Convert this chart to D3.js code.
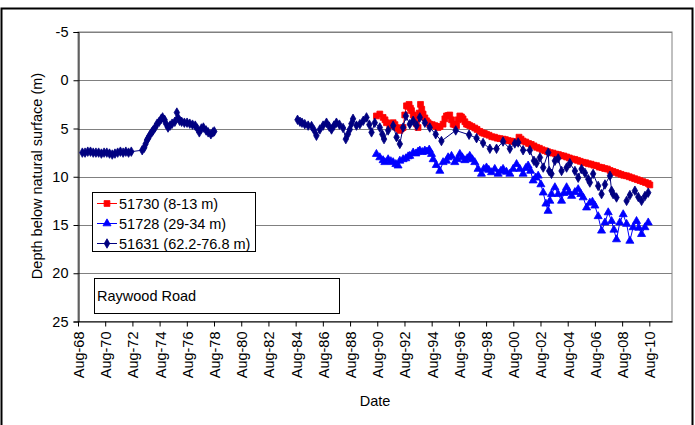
<!DOCTYPE html>
<html>
<head>
<meta charset="utf-8">
<script src="https://cdn.jsdelivr.net/npm/d3@7"></script>
<style>
  body { margin: 0; background: #fff; }
  svg { display: block; }
  text { font-family: Arial, "Liberation Sans", sans-serif; fill: #000; }
</style>
</head>
<body>
<svg id="chart" width="695" height="425"></svg>
<script>
// Depth tick values (m) and date tick years (August of every second year)
const depthTicks = [-5, 0, 5, 10, 15, 20, 25];
const tickYears = d3.range(1968, 2011, 2);

// Bore 51730 (8-13 m): [decimal year, depth below surface]
const bore51730 = [
  [1990.52,3.7],[1990.77,3.5],[1991.01,3.85],[1991.15,4.1],[1991.26,4.4],[1991.50,4.7],[1991.62,4.5],
  [1991.75,4.4],[1991.88,4.6],[1992.00,4.9],[1992.12,5.0],[1992.24,5.2],[1992.36,5.0],[1992.48,4.9],
  [1992.60,3.6],[1992.73,2.65],[1992.82,2.7],[1992.92,2.5],[1993.02,2.9],[1993.10,3.15],[1993.22,3.6],
  [1993.34,4.0],[1993.46,4.5],[1993.58,4.9],[1993.66,3.4],[1993.76,2.5],[1993.85,3.0],[1993.95,3.5],
  [1994.08,3.9],[1994.20,4.2],[1994.32,4.4],[1994.44,4.55],[1994.62,4.6],[1994.81,4.7],[1994.93,4.8],
  [1995.05,4.9],[1995.20,4.8],[1995.42,4.55],[1995.55,4.0],[1995.67,3.7],[1995.80,3.65],[1995.91,3.6],
  [1996.04,4.1],[1996.16,4.55],[1996.28,4.6],[1996.41,4.7],[1996.53,4.1],[1996.65,3.7],[1996.77,3.8],
  [1996.89,4.0],[1997.02,4.3],[1997.14,4.55],[1997.26,4.6],[1997.38,4.7],[1997.55,4.8],[1997.75,4.95],
  [1997.92,5.1],[1998.12,5.3],[1998.30,5.45],[1998.45,5.5],[1998.61,5.6],[1998.80,5.7],[1999.00,5.85],
  [1999.20,5.9],[1999.40,6.0],[1999.60,6.05],[1999.83,6.1],[2000.00,6.15],[2000.20,6.25],[2000.40,6.3],
  [2000.60,6.35],[2000.82,6.45],[2001.00,5.9],[2001.15,6.1],[2001.30,6.3],[2001.50,6.4],[2001.70,6.55],
  [2001.90,6.65],[2002.10,6.8],[2002.30,6.95],[2002.50,7.05],[2002.70,7.2],[2002.90,7.3],[2003.10,7.4],
  [2003.30,7.5],[2003.50,7.55],[2003.70,7.65],[2003.90,7.7],[2004.10,7.8],[2004.30,7.85],[2004.50,7.95],
  [2004.70,8.05],[2004.90,8.15],[2005.10,8.2],[2005.30,8.3],[2005.50,8.4],[2005.70,8.5],[2005.90,8.55],
  [2006.10,8.65],[2006.30,8.7],[2006.50,8.8],[2006.70,8.85],[2006.90,9.0],[2007.10,9.05],[2007.30,9.15],
  [2007.50,9.2],[2007.70,9.35],[2007.90,9.45],[2008.10,9.55],[2008.30,9.65],[2008.50,9.75],[2008.70,9.85],
  [2008.90,9.9],[2009.10,10.0],[2009.30,10.1],[2009.50,10.2],[2009.70,10.3],[2009.90,10.4],[2010.10,10.5],
  [2010.30,10.6],[2010.50,10.7],[2010.62,10.85]
];

// Bore 51728 (29-34 m)
const bore51728 = [
  [1990.52,7.65],[1990.77,8.0],[1991.01,8.3],[1991.14,8.5],[1991.38,8.2],[1991.58,8.4],[1991.75,8.5],
  [1991.95,8.7],[1992.11,8.85],[1992.24,8.35],[1992.48,8.2],[1992.68,8.1],[1992.85,7.9],[1992.97,7.85],
  [1993.22,7.5],[1993.42,7.6],[1993.58,7.4],[1993.71,7.3],[1993.89,7.45],[1994.08,7.3],[1994.23,7.4],
  [1994.40,7.2],[1994.57,7.65],[1994.69,8.2],[1994.92,8.8],[1995.18,9.4],[1995.42,8.5],[1995.67,8.35],
  [1995.79,8.0],[1996.04,7.85],[1996.28,8.5],[1996.47,8.2],[1996.65,7.65],[1996.83,8.0],[1997.02,8.3],
  [1997.20,8.1],[1997.38,7.85],[1997.57,8.2],[1997.75,8.5],[1997.99,9.2],[1998.24,9.7],[1998.41,9.2],
  [1998.61,9.05],[1998.78,9.3],[1998.98,9.55],[1999.22,9.2],[1999.47,9.7],[1999.67,9.4],[1999.83,9.2],
  [2000.08,9.5],[2000.33,9.7],[2000.57,9.2],[2000.82,8.7],[2001.06,9.2],[2001.30,9.7],[2001.50,9.1],
  [2001.67,8.85],[2001.85,9.4],[2002.04,10.4],[2002.22,10.1],[2002.41,9.9],[2002.61,10.8],[2002.78,11.65],
  [2002.98,12.8],[2003.14,13.55],[2003.27,12.5],[2003.39,11.8],[2003.64,11.1],[2003.88,11.8],[2004.13,12.5],
  [2004.30,11.7],[2004.50,11.1],[2004.67,11.6],[2004.87,12.0],[2005.11,11.6],[2005.35,11.3],[2005.55,11.8],
  [2005.72,12.15],[2005.97,13.2],[2006.21,12.7],[2006.40,12.6],[2006.58,13.0],[2006.82,14.1],[2007.07,15.6],
  [2007.32,14.75],[2007.56,13.7],[2007.81,14.6],[2007.98,15.5],[2008.17,16.5],[2008.41,14.75],[2008.66,13.9],
  [2008.91,14.9],[2009.15,16.65],[2009.39,15.25],[2009.64,14.6],[2009.81,15.3],[2010.01,15.95],[2010.26,15.25],
  [2010.50,14.75]
];

// Bore 51631 (62.2-76.8 m); null marks a break in the record
const bore51631 = [
  [1968.90,7.5],[1969.10,7.5],[1969.30,7.4],[1969.50,7.4],[1969.70,7.5],[1969.90,7.5],[1970.10,7.5],
  [1970.30,7.6],[1970.50,7.5],[1970.70,7.5],[1970.90,7.6],[1971.10,7.7],[1971.30,7.6],[1971.50,7.5],
  [1971.70,7.4],[1971.90,7.5],[1972.10,7.4],[1972.30,7.5],[1972.50,7.4],[1973.30,7.25],[1973.45,7.0],
  [1973.55,6.6],[1973.65,6.2],[1973.75,6.0],[1973.85,5.7],[1974.00,5.4],[1974.10,5.2],[1974.25,4.9],
  [1974.40,4.5],[1974.55,4.3],[1974.70,4.0],[1974.80,3.85],[1974.95,4.1],[1975.05,4.5],[1975.20,4.9],
  [1975.35,4.7],[1975.50,4.5],[1975.70,4.3],[1975.85,3.35],[1975.95,3.9],[1976.05,4.2],[1976.20,4.3],
  [1976.40,4.4],[1976.60,4.4],[1976.80,4.5],[1977.00,4.6],[1977.20,4.7],[1977.35,5.0],[1977.50,5.4],
  [1977.65,5.0],[1977.80,4.9],[1978.00,5.2],[1978.15,5.4],[1978.35,5.6],[1978.50,5.4],[1978.60,5.3],
  null,
  [1984.72,4.1],[1984.90,4.3],[1985.05,4.4],[1985.25,4.55],[1985.50,4.7],[1985.75,4.75],[1985.95,5.2],
  [1986.11,5.75],[1986.36,5.1],[1986.60,4.7],[1986.85,4.4],[1987.05,4.8],[1987.22,5.1],[1987.40,4.7],
  [1987.58,4.4],[1987.80,4.6],[1988.07,4.95],[1988.27,6.1],[1988.42,5.6],[1988.56,5.1],[1988.68,4.5],
  [1988.80,4.0],[1989.05,4.7],[1989.30,4.55],[1989.55,4.2],[1989.79,3.85],[1990.00,4.6],[1990.16,5.4],
  [1990.40,4.4],[1990.77,4.9],[1990.95,5.6],[1991.08,6.1],[1991.38,5.2],[1991.75,4.7],[1992.00,5.9],
  [1992.24,6.6],[1992.48,4.9],[1992.68,3.7],[1992.97,4.55],[1993.22,4.2],[1993.47,4.7],[1993.71,3.85],
  [1994.08,4.4],[1994.44,4.9],[1994.88,5.6],[1995.30,6.3],[1996.35,5.2],[1997.33,5.65],[1997.88,6.0],
  [1998.36,6.5],[1998.86,7.1],[1999.35,7.1],[1999.83,6.35],[2000.33,7.1],[2000.69,6.55],[2000.94,6.45],
  [2001.30,7.25],[2001.80,7.25],[2002.10,8.35],[2002.29,8.6],[2002.54,8.0],[2002.78,9.05],[2003.15,7.5],
  [2003.22,9.4],[2003.39,9.7],[2003.64,8.35],[2003.88,8.1],[2004.13,9.4],[2004.50,9.05],[2004.74,8.6],
  [2005.11,9.4],[2005.35,10.1],[2005.60,9.2],[2005.85,9.6],[2006.09,10.25],[2006.21,10.6],[2006.45,9.7],
  [2006.82,10.95],[2007.07,11.8],[2007.32,10.8],[2007.69,9.9],[2007.81,11.45],[2007.92,11.8],[2008.17,12.15],
  null,
  [2008.91,12.5],[2009.15,11.9],[2009.52,11.45],[2009.77,12.1],[2010.01,12.5],[2010.26,12.0],[2010.50,11.65]
];

const seriesList = [
  { name: "51730 (8-13 m)",      data: bore51730, color: "#FF0000", symbol: d3.symbolSquare,   size: 34 },
  { name: "51728 (29-34 m)",     data: bore51728, color: "#0000FF", symbol: d3.symbolTriangle, size: 28 },
  { name: "51631 (62.2-76.8 m)", data: bore51631, color: "#000080", symbol: d3.symbolDiamond,  size: 26 }
];

function yearToDate(v) {
  const yr = Math.floor(v);
  const a = new Date(yr, 0, 1), b = new Date(yr + 1, 0, 1);
  return new Date(+a + (v - yr) * (b - a));
}

const svg = d3.select("#chart");
const plotLeft = 78, plotRight = 672, plotTop = 32, plotBottom = 321.5;

const x = d3.scaleTime()
  .domain([new Date(1968, 7, 1), new Date(2012, 3, 1)])
  .range([plotLeft, plotRight]);
const y = d3.scaleLinear().domain([-5, 25]).range([plotTop, plotBottom]);

// outer frame
svg.append("rect").attr("x", 1.5).attr("y", 8.5).attr("width", 691).attr("height", 430)
  .attr("fill", "none").attr("stroke", "#000").attr("stroke-width", 2);

// plot area border and gridlines
svg.append("rect").attr("x", plotLeft).attr("y", plotTop)
  .attr("width", plotRight - plotLeft).attr("height", plotBottom - plotTop)
  .attr("fill", "none").attr("stroke", "#808080").attr("stroke-width", 1);
svg.append("g").selectAll("line").data(depthTicks.slice(0, -1)).join("line")
  .attr("x1", plotLeft).attr("x2", plotRight)
  .attr("y1", d => Math.round(y(d)) + 0.5).attr("y2", d => Math.round(y(d)) + 0.5)
  .attr("stroke", "#808080").attr("stroke-width", 1);

// y axis (plain hyphen for negative values)
const yAxis = d3.axisLeft(y).tickValues(depthTicks).tickFormat(d => String(d)).tickSize(5).tickPadding(5);
const gy = svg.append("g").attr("transform", `translate(${plotLeft + 0.5},0)`).call(yAxis);
gy.select(".domain").attr("stroke", "#000");
gy.selectAll(".tick line").attr("stroke", "#000");
gy.selectAll(".tick text").attr("font-size", "14.5px")
  .attr("font-family", "Arial, 'Liberation Sans', sans-serif").attr("fill", "#000");

// x axis
const tickDates = tickYears.map(yr => new Date(yr, 7, 1));
const xAxis = d3.axisBottom(x).tickValues(tickDates).tickFormat(d3.timeFormat("%b-%y"))
  .tickSize(5).tickSizeOuter(0);
const gx = svg.append("g").attr("transform", `translate(0,${plotBottom})`).call(xAxis);
gx.select(".domain").attr("stroke", "#000");
gx.selectAll(".tick line").attr("stroke", "#000");
gx.selectAll(".tick text")
  .attr("font-size", "14.5px").attr("font-family", "Arial, 'Liberation Sans', sans-serif").attr("fill", "#000")
  .attr("text-anchor", "end").attr("dy", null).attr("y", 0).attr("x", 0)
  .attr("dominant-baseline", "central")
  .attr("transform", "translate(0.5,10) rotate(-90)");

// series lines and markers
const line = d3.line()
  .defined(d => d != null)
  .x(d => x(yearToDate(d[0])))
  .y(d => y(d[1]));

seriesList.forEach(s => {
  svg.append("path").datum(s.data).attr("d", line)
    .attr("fill", "none").attr("stroke", s.color).attr("stroke-width", 1);
  const sym = d3.symbol().type(s.symbol).size(s.size);
  svg.append("g").selectAll("path").data(s.data.filter(d => d != null)).join("path")
    .attr("d", sym)
    .attr("transform", d => `translate(${x(yearToDate(d[0]))},${y(d[1])})`)
    .attr("fill", s.color).attr("stroke", s.color).attr("stroke-width", 0.8);
});

// legend
const lg = svg.append("g");
lg.append("rect").attr("x", 92.5).attr("y", 192.5).attr("width", 163).attr("height", 59)
  .attr("fill", "#fff").attr("stroke", "#000").attr("stroke-width", 1);
seriesList.forEach((s, i) => {
  const cy = 203.5 + i * 20;
  lg.append("line").attr("x1", 97).attr("x2", 117).attr("y1", cy).attr("y2", cy)
    .attr("stroke", s.color).attr("stroke-width", 1);
  lg.append("path").attr("d", d3.symbol().type(s.symbol).size(s.size)())
    .attr("transform", `translate(107,${cy})`).attr("fill", s.color)
    .attr("stroke", s.color).attr("stroke-width", 0.8);
  lg.append("text").attr("x", 119).attr("y", cy).attr("dominant-baseline", "central")
    .attr("font-size", "14.5px").text(s.name);
});

// site label box
svg.append("rect").attr("x", 94.5).attr("y", 278.5).attr("width", 245).attr("height", 35)
  .attr("fill", "#fff").attr("stroke", "#000").attr("stroke-width", 1);
svg.append("text").attr("x", 97).attr("y", 296).attr("dominant-baseline", "central")
  .attr("font-size", "14.5px").text("Raywood Road");

// axis titles
svg.append("text").attr("transform", "translate(42,176) rotate(-90)").attr("text-anchor", "middle")
  .attr("font-size", "14.5px").text("Depth below natural surface (m)");
svg.append("text").attr("x", 375).attr("y", 406).attr("text-anchor", "middle")
  .attr("font-size", "14.5px").text("Date");
</script>
</body>
</html>
